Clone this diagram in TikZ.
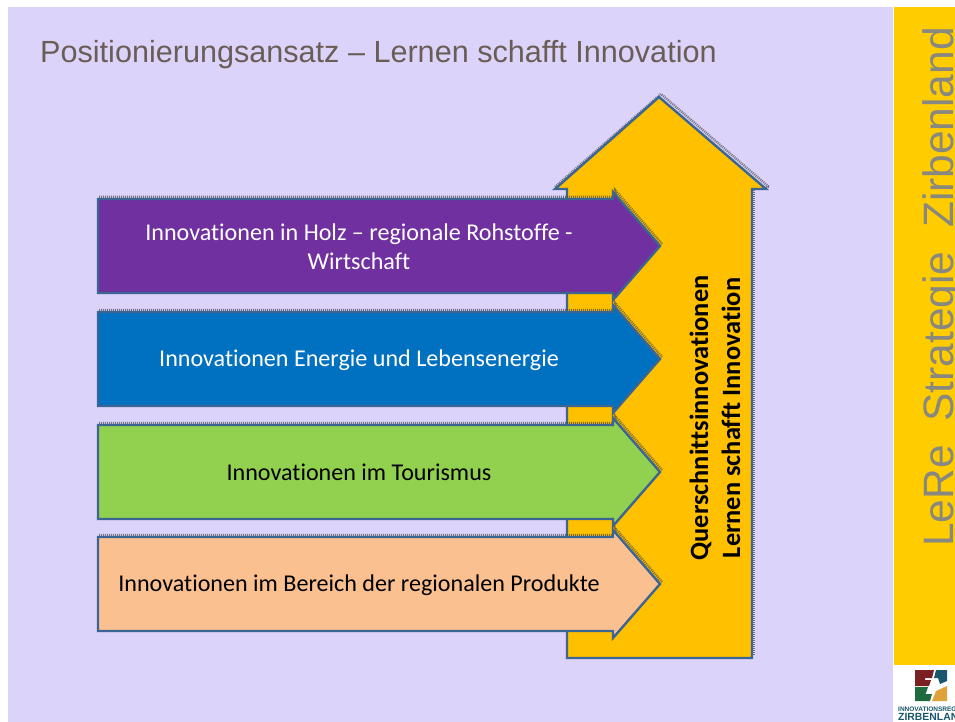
\documentclass[tikz,border=0pt]{standalone}
\usepackage{fontspec}
\setmainfont[Ligatures=NoCommon]{Carlito}
\newfontfamily\titlefont{Liberation Sans}
\definecolor{lavender}{HTML}{DCD3FB}
\definecolor{stripyellow}{HTML}{FFCC00}
\definecolor{upyellow}{HTML}{FFC000}
\definecolor{edgeblue}{HTML}{3B6694}
\definecolor{holzpurple}{HTML}{7030A0}
\definecolor{energyblue}{HTML}{0070C0}
\definecolor{tourgreen}{HTML}{92D050}
\definecolor{prodpeach}{HTML}{FAC090}
\definecolor{titlegray}{HTML}{6A5D55}
\definecolor{sidegray}{HTML}{888780}
\definecolor{logored}{HTML}{7A1F22}
\definecolor{logoteal}{HTML}{17566B}
\definecolor{logogreen}{HTML}{1F6B3F}
\definecolor{logoorange}{HTML}{DDA33A}
\begin{document}
\begin{tikzpicture}[x=1pt,y=-1pt,
	edged/.style={draw=edgeblue,line width=2.4pt,miter limit=20},
	shadowed/.style={draw=black!70,line width=2.5pt,dash pattern=on 1pt off 1pt,opacity=.7},
	label/.style={font=\fontsize{24.1}{29}\selectfont,align=center,inner sep=0pt}]
	\useasboundingbox (0,0) rectangle (955,722);

	% background
	\fill[lavender] (8,7) rectangle (893,722);
	\fill[stripyellow] (894,7) rectangle (955,665);

	% title
	\node[anchor=base west,inner sep=0pt,text=titlegray,font=\titlefont\fontsize{30.6}{36}\selectfont] (title) at (40,63) {Positionierungsansatz – Lernen schafft Innovation};
	\node[anchor=base west,inner sep=0pt,rotate=90,text=sidegray,font=\titlefont\fontsize{42.5}{50}\selectfont] (side) at (953,547) {LeRe\ \ Strategie\ \ Zirbenland};

	% up arrow
	\draw[shadowed] (555,187) -- (661,94) -- (769,187);
	\draw[shadowed] (769,187) -- (754,187) -- (754,656);
	\fill[upyellow] (567,658) -- (567,189) -- (555,189) -- (659,97) -- (766,189) -- (752,189) -- (752,658) -- cycle;
	\draw[edged] (567,658) -- (567,189) -- (555,189) -- (659,97) -- (766,189) -- (752,189) -- (752,658) -- cycle;

	% bars
	\foreach \ytop/\barcol in {199/holzpurple,312/energyblue,425/tourgreen,537/prodpeach} {
		\draw[shadowed] (99,\ytop-2) -- (615,\ytop-2) -- (615,\ytop-9) -- (662,\ytop+45);
		\draw[edged,fill=\barcol] (98,\ytop) -- (613,\ytop) -- (613,\ytop-7) -- (660,\ytop+47) -- (613,\ytop+101) -- (613,\ytop+94) -- (98,\ytop+94) -- cycle;
	}

	% bar labels
	\node[label,text=white] (holz) at (359,246.5) {Innovationen in Holz – regionale Rohstoffe -\\Wirtschaft};
	\node[label,text=white] (energie) at (359,360) {Innovationen Energie und Lebensenergie};
	\node[label] (tourismus) at (359,472) {Innovationen im Tourismus};
	\node[label] (produkte) at (359,585) {Innovationen im Bereich der regionalen Produkte};
	\node[label,rotate=90,font=\bfseries\fontsize{26.4}{32}\selectfont] (quer) at (715,418) {Querschnittsinnovationen\\Lernen schafft Innovation};

	% logo
	\fill[logored] (915,670) -- (934,670) -- (932,678) -- (925,678) -- (925,680) -- (931,680) -- (929,686) -- (915,686) -- cycle;
	\fill[logoteal] (936,670) -- (947,670) -- (947,681) -- (940,684) -- (938,678) -- (934,678) -- cycle;
	\fill[logogreen] (915,687) -- (928,687) -- (926,693) -- (925,694) -- (932,694) -- (930,701) -- (915,701) -- cycle;
	\fill[logoorange] (936,691) -- (947,686) -- (947,701) -- (932,701) -- cycle;
	\node[anchor=base west,inner sep=0pt,text=logoteal,font=\titlefont\bfseries\fontsize{6.5}{8}\selectfont] (region) at (898,711) {INNOVATIONSREGION};
	\node[anchor=base west,inner sep=0pt,text=logoteal,font=\titlefont\bfseries\fontsize{10.4}{12}\selectfont] (zirben) at (898,720) {ZIRBENLAND};
\end{tikzpicture}
\end{document}
